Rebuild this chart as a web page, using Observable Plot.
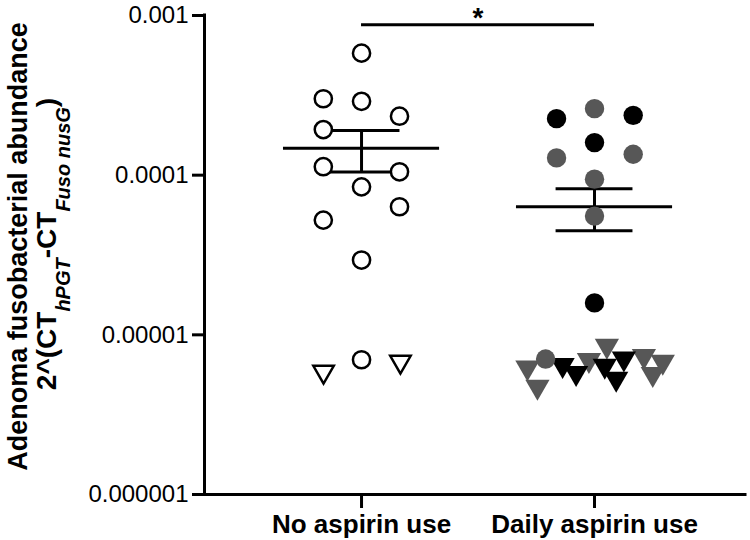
<!DOCTYPE html>
<html>
<head>
<meta charset="utf-8">
<script src="https://cdn.jsdelivr.net/npm/d3@7"></script>
<script src="https://cdn.jsdelivr.net/npm/@observablehq/plot@0.6"></script>
<style>
  html, body { margin: 0; padding: 0; background: #fff; }
  #chart svg { display: block; }
</style>
</head>
<body>
<div id="chart"></div>
<script>
// ---- Data ----
const groupNames = ["No aspirin use", "Daily aspirin use"];
const groupPositions = [1, 2];
const yTicks = [1e-3, 1e-4, 1e-5, 1e-6];
const yTickLabels = ["0.001", "0.0001", "0.00001", "0.000001"];
const yLabelLine1 = "Adenoma fusobacterial abundance";
const yLabelLine2 = ["2^(CT", "hPGT", "-CT", "Fuso nusG", ")"];

// [group position + jitter, abundance]
const noAspirinCircles = [
  [1.0, 5.81e-4], [0.836, 3.01e-4], [1.0, 2.90e-4], [1.163, 2.34e-4],
  [0.836, 1.93e-4], [0.836, 1.13e-4], [1.163, 1.05e-4], [1.0, 8.45e-5],
  [1.163, 6.34e-5], [0.836, 5.23e-5], [1.0, 2.94e-5], [1.0, 6.98e-6]
];
const noAspirinTriangles = [[0.837, 5.87e-6], [1.167, 6.78e-6]];
const dailyBlackCircles = [[1.837, 2.26e-4], [2.166, 2.37e-4], [2.0, 1.60e-4], [2.0, 1.585e-5]];
const dailyGrayCircles = [[2.0, 2.61e-4], [1.837, 1.283e-4], [2.166, 1.352e-4], [2.0, 9.44e-5], [2.0, 5.54e-5], [1.79, 7.05e-6]];
const dailyBlackTriangles = [[1.863, 6.47e-6], [1.921, 5.76e-6], [2.044, 6.40e-6], [2.126, 7.11e-6], [2.093, 5.31e-6]];
const dailyGrayTriangles = [[1.712, 6.25e-6], [1.755, 4.73e-6], [1.976, 6.95e-6], [2.053, 8.54e-6], [2.212, 7.36e-6], [2.293, 6.78e-6], [2.250, 5.68e-6]];
const comparison = [{x1: 1, x2: 2, y: 8.75e-4, label: "*"}];

// ---- Stats (mean ± SEM) ----
const groupsData = [
  [...noAspirinCircles, ...noAspirinTriangles],
  [...dailyBlackCircles, ...dailyGrayCircles, ...dailyBlackTriangles, ...dailyGrayTriangles]
];
const stats = groupsData.map((pts, i) => {
  const v = pts.map(d => d[1]);
  const m = d3.mean(v);
  const se = d3.deviation(v) / Math.sqrt(v.length);
  return {x: groupPositions[i], mean: m, lo: m - se, hi: m + se};
});

const FONT = "'Liberation Sans', Arial, Helvetica, sans-serif";
const GRAY = "#575757";
const xMin = 0.326, xMax = 2.648;
const meanHalf = 0.335, capHalf = 0.165;
const px = d => d[0], py = d => d[1];

const chart = Plot.plot({
  width: 750,
  height: 540,
  marginLeft: 204,
  marginRight: 5,
  marginTop: 15,
  marginBottom: 46,
  style: {fontFamily: FONT, background: "white", color: "black", overflow: "visible"},
  x: {domain: [xMin, xMax], axis: null},
  y: {type: "log", domain: [1e-6, 1e-3], axis: null},
  marks: [
    Plot.axisY({
      ticks: yTicks,
      tickFormat: d => yTickLabels[yTicks.indexOf(d)],
      tickSize: 12, tickPadding: 4, strokeWidth: 3,
      fontSize: 24, label: null
    }),
    Plot.axisX({
      ticks: groupPositions,
      tickFormat: d => groupNames[groupPositions.indexOf(d)],
      tickSize: 14, tickPadding: 6, strokeWidth: 3,
      fontSize: 26, fontWeight: "bold", label: null
    }),
    Plot.ruleX([xMin], {strokeWidth: 3, strokeLinecap: "square"}),
    Plot.ruleY([1e-6], {strokeWidth: 3, strokeLinecap: "square"}),
    // significance bar
    Plot.ruleY(comparison, {y: "y", x1: "x1", x2: "x2", strokeWidth: 3}),
    Plot.text(comparison, {x: d => (d.x1 + d.x2) / 2, y: "y", text: "label", fontSize: 28, fontWeight: "bold", lineAnchor: "bottom", dy: 2}),
    // mean ± SEM
    Plot.ruleY(stats, {y: "mean", x1: d => d.x - meanHalf, x2: d => d.x + meanHalf, strokeWidth: 3}),
    Plot.ruleY(stats, {y: "hi", x1: d => d.x - capHalf, x2: d => d.x + capHalf, strokeWidth: 3}),
    Plot.ruleY(stats, {y: "lo", x1: d => d.x - capHalf, x2: d => d.x + capHalf, strokeWidth: 3}),
    Plot.ruleX(stats, {x: "x", y1: "lo", y2: "hi", strokeWidth: 3}),
    // points
    Plot.dot(noAspirinCircles, {x: px, y: py, r: 8.6, fill: "white", stroke: "black", strokeWidth: 2.5}),
    Plot.dot(noAspirinTriangles, {x: px, y: py, symbol: "triangle", rotate: 180, r: 7.6, fill: "white", stroke: "black", strokeWidth: 2.5}),
    Plot.dot(dailyGrayTriangles, {x: px, y: py, symbol: "triangle", rotate: 180, r: 9, fill: GRAY}),
    Plot.dot(dailyBlackTriangles, {x: px, y: py, symbol: "triangle", rotate: 180, r: 9, fill: "black"}),
    Plot.dot(dailyGrayCircles, {x: px, y: py, r: 9.7, fill: GRAY}),
    Plot.dot(dailyBlackCircles, {x: px, y: py, r: 9.7, fill: "black"})
  ]
});

document.getElementById("chart").appendChild(chart);

// ---- Y-axis title (two lines, with subscripts) ----
const svg = d3.select(chart);
const g = svg.append("g")
  .attr("font-family", FONT)
  .attr("font-weight", "bold")
  .attr("fill", "black");
g.append("text")
  .attr("transform", "translate(27,246.5) rotate(-90)")
  .attr("text-anchor", "middle")
  .attr("font-size", 27)
  .text(yLabelLine1);
const t2 = g.append("text")
  .attr("transform", "translate(56,244) rotate(-90)")
  .attr("text-anchor", "middle")
  .attr("font-size", 28);
t2.append("tspan").text(yLabelLine2[0]);
t2.append("tspan").attr("font-size", 20).attr("font-style", "italic").attr("dy", 14).text(yLabelLine2[1]);
t2.append("tspan").attr("dy", -14).text(yLabelLine2[2]);
t2.append("tspan").attr("font-size", 20).attr("font-style", "italic").attr("dy", 14).text(yLabelLine2[3]);
t2.append("tspan").attr("dy", -14).text(yLabelLine2[4]);
</script>
</body>
</html>
